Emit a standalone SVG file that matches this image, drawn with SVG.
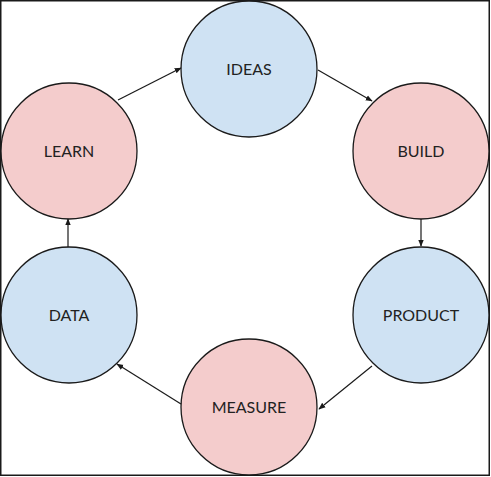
<svg xmlns="http://www.w3.org/2000/svg" width="491" height="477" viewBox="0 0 491 477">
<defs>
<style>
.blue{fill:#cfe2f3;stroke:#1a1a1a;stroke-width:1.3}
.pink{fill:#f4cccc;stroke:#1a1a1a;stroke-width:1.3}
.lbl{font-family:Lato,"Liberation Sans",sans-serif;font-size:16px;font-weight:400;fill:#222;text-anchor:middle;dominant-baseline:central}
.conn line{stroke:#1a1a1a;stroke-width:1.2;marker-end:url(#ah)}
</style>
<marker id="ah" viewBox="0 0 10 10" refX="9" refY="5" markerWidth="7" markerHeight="7" markerUnits="userSpaceOnUse" orient="auto">
<path d="M0,1 L10,5 L0,9 Z" fill="#1a1a1a"/>
</marker>
</defs>
<rect x="0.75" y="0.75" width="488.5" height="474.5" fill="#fff" stroke="#1a1a1a" stroke-width="1.5"/>
<g id="ideas"><circle class="blue" cx="249" cy="69" r="68"/><text class="lbl" x="249" y="68">IDEAS</text></g>
<g id="build"><circle class="pink" cx="421" cy="151" r="68"/><text class="lbl" x="421" y="150">BUILD</text></g>
<g id="product"><circle class="blue" cx="421" cy="315" r="68"/><text class="lbl" x="421" y="314">PRODUCT</text></g>
<g id="measure"><circle class="pink" cx="249" cy="407" r="68"/><text class="lbl" x="249" y="406">MEASURE</text></g>
<g id="data"><circle class="blue" cx="69" cy="315" r="68"/><text class="lbl" x="69" y="314">DATA</text></g>
<g id="learn"><circle class="pink" cx="69" cy="151" r="68"/><text class="lbl" x="69" y="150">LEARN</text></g>
<g class="conn">
<line x1="118" y1="100" x2="181" y2="68"/>
<line x1="318" y1="70" x2="372" y2="101"/>
<line x1="421" y1="219" x2="421" y2="246"/>
<line x1="372" y1="366" x2="319" y2="409"/>
<line x1="181" y1="404" x2="117" y2="364"/>
<line x1="68" y1="247" x2="68" y2="219"/>
</g>
</svg>
